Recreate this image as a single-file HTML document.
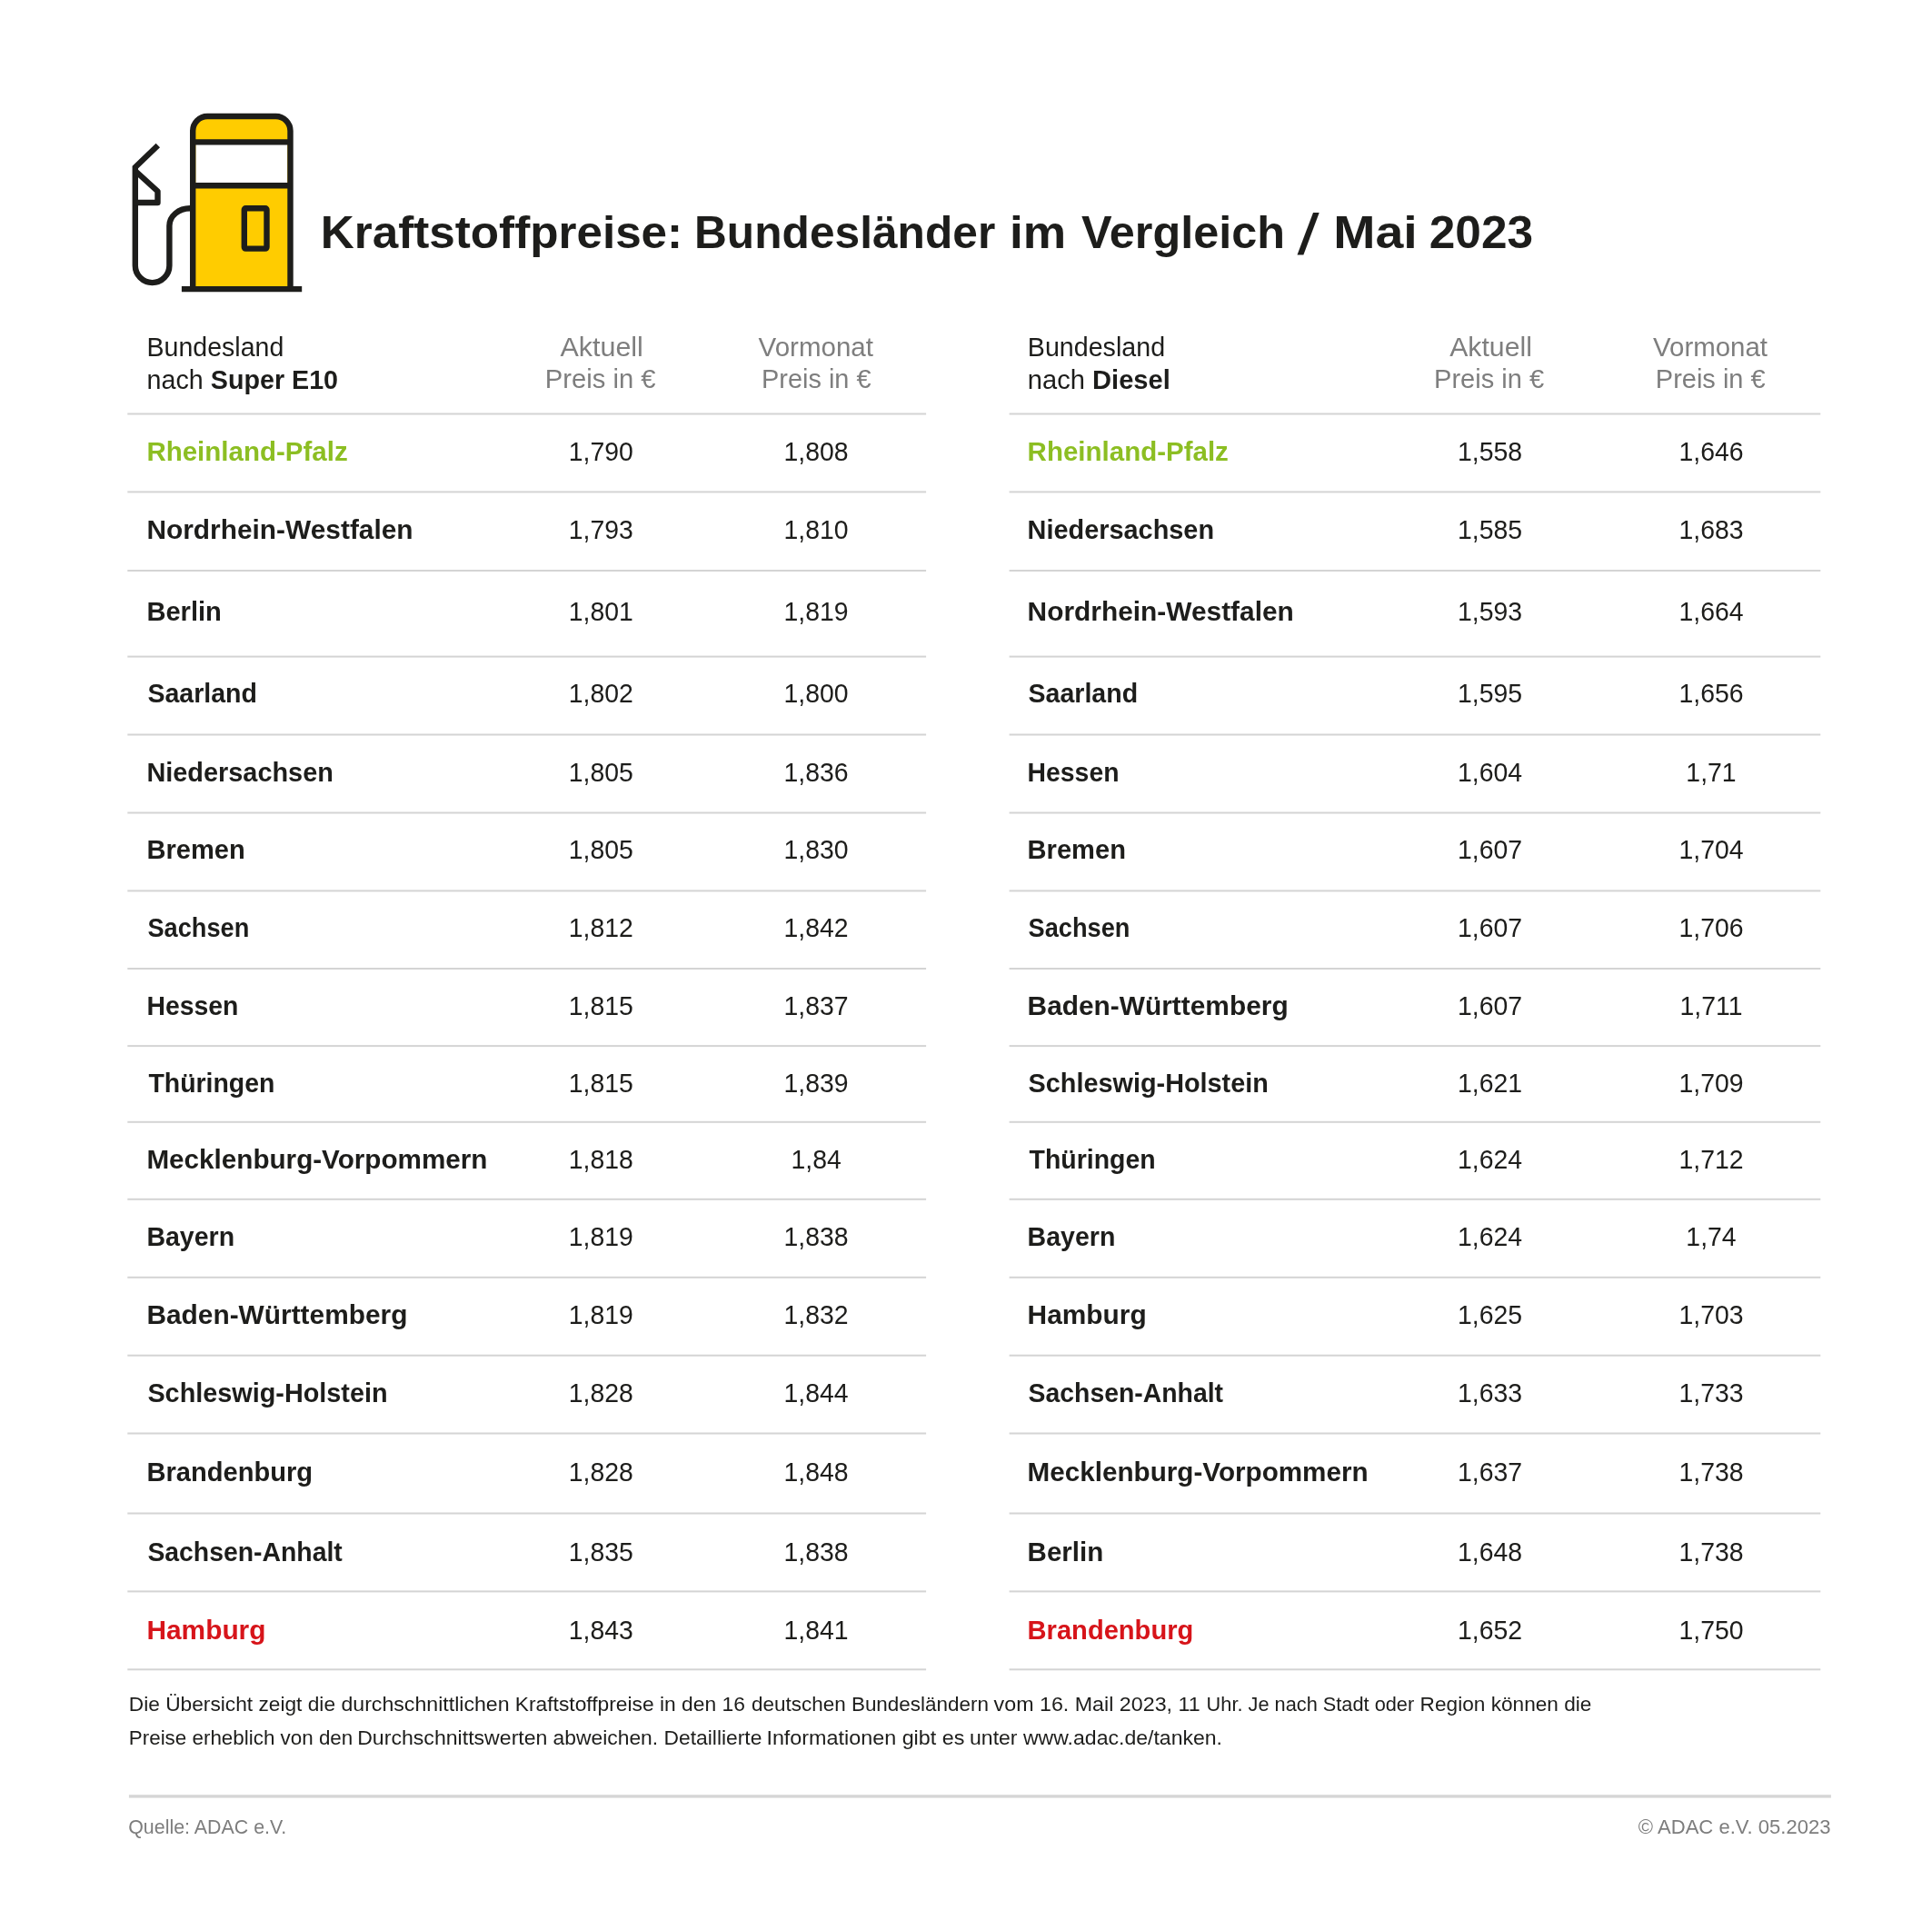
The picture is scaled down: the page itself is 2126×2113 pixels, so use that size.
<!DOCTYPE html>
<html lang="de"><head><meta charset="utf-8"><title>Kraftstoffpreise: Bundesländer im Vergleich / Mai 2023</title>
<style>
html,body{margin:0;padding:0;background:#fff;}
body{width:2126px;height:2113px;overflow:hidden;}
svg{display:block;will-change:transform;font-family:"Liberation Sans",Arial,sans-serif;}
</style></head><body>
<svg width="2126" height="2113" viewBox="0 0 2126 2113">
<rect width="2126" height="2113" fill="#ffffff"/>
<rect x="140.3" y="454.5" width="878.8" height="2" fill="#d4d4d4"/>
<rect x="1110.6" y="454.5" width="892.7" height="2" fill="#d4d4d4"/>
<rect x="140.3" y="540.4" width="878.8" height="2" fill="#d4d4d4"/>
<rect x="1110.6" y="540.4" width="892.7" height="2" fill="#d4d4d4"/>
<rect x="140.3" y="627" width="878.8" height="2" fill="#d4d4d4"/>
<rect x="1110.6" y="627" width="892.7" height="2" fill="#d4d4d4"/>
<rect x="140.3" y="721.6" width="878.8" height="2" fill="#d4d4d4"/>
<rect x="1110.6" y="721.6" width="892.7" height="2" fill="#d4d4d4"/>
<rect x="140.3" y="807.5" width="878.8" height="2" fill="#d4d4d4"/>
<rect x="1110.6" y="807.5" width="892.7" height="2" fill="#d4d4d4"/>
<rect x="140.3" y="893.5" width="878.8" height="2" fill="#d4d4d4"/>
<rect x="1110.6" y="893.5" width="892.7" height="2" fill="#d4d4d4"/>
<rect x="140.3" y="979.4" width="878.8" height="2" fill="#d4d4d4"/>
<rect x="1110.6" y="979.4" width="892.7" height="2" fill="#d4d4d4"/>
<rect x="140.3" y="1065" width="878.8" height="2" fill="#d4d4d4"/>
<rect x="1110.6" y="1065" width="892.7" height="2" fill="#d4d4d4"/>
<rect x="140.3" y="1150.1" width="878.8" height="2" fill="#d4d4d4"/>
<rect x="1110.6" y="1150.1" width="892.7" height="2" fill="#d4d4d4"/>
<rect x="140.3" y="1233.8" width="878.8" height="2" fill="#d4d4d4"/>
<rect x="1110.6" y="1233.8" width="892.7" height="2" fill="#d4d4d4"/>
<rect x="140.3" y="1318.8" width="878.8" height="2" fill="#d4d4d4"/>
<rect x="1110.6" y="1318.8" width="892.7" height="2" fill="#d4d4d4"/>
<rect x="140.3" y="1404.8" width="878.8" height="2" fill="#d4d4d4"/>
<rect x="1110.6" y="1404.8" width="892.7" height="2" fill="#d4d4d4"/>
<rect x="140.3" y="1490.7" width="878.8" height="2" fill="#d4d4d4"/>
<rect x="1110.6" y="1490.7" width="892.7" height="2" fill="#d4d4d4"/>
<rect x="140.3" y="1576.5" width="878.8" height="2" fill="#d4d4d4"/>
<rect x="1110.6" y="1576.5" width="892.7" height="2" fill="#d4d4d4"/>
<rect x="140.3" y="1664.5" width="878.8" height="2" fill="#d4d4d4"/>
<rect x="1110.6" y="1664.5" width="892.7" height="2" fill="#d4d4d4"/>
<rect x="140.3" y="1750.4" width="878.8" height="2" fill="#d4d4d4"/>
<rect x="1110.6" y="1750.4" width="892.7" height="2" fill="#d4d4d4"/>
<rect x="140.3" y="1836.3" width="878.8" height="2" fill="#d4d4d4"/>
<rect x="1110.6" y="1836.3" width="892.7" height="2" fill="#d4d4d4"/>
<rect x="141.9" y="1975.2" width="1873.0" height="3.4" fill="#d6d6d6"/>
<text x="161.6" y="391.6" font-size="30.3" fill="#1d1d1b" textLength="150.69" lengthAdjust="spacingAndGlyphs">Bundesland</text>
<text x="1130.8" y="391.8" font-size="30.3" fill="#1d1d1b" textLength="151.31" lengthAdjust="spacingAndGlyphs">Bundesland</text>
<text x="161.6" y="427.8" font-size="30.3" fill="#1d1d1b" textLength="210.44" lengthAdjust="spacingAndGlyphs">nach <tspan font-weight="bold">Super E10</tspan></text>
<text x="1130.8" y="427.8" font-size="30.3" fill="#1d1d1b" textLength="157.08" lengthAdjust="spacingAndGlyphs">nach <tspan font-weight="bold">Diesel</tspan></text>
<text x="616.4" y="392.1" font-size="30.3" fill="#7e7e7e" textLength="91.49" lengthAdjust="spacingAndGlyphs">Aktuell</text>
<text x="599.8" y="427.4" font-size="30.3" fill="#7e7e7e" textLength="121.73" lengthAdjust="spacingAndGlyphs">Preis in €</text>
<text x="834.6" y="392.1" font-size="30.3" fill="#7e7e7e" textLength="126.41" lengthAdjust="spacingAndGlyphs">Vormonat</text>
<text x="838.0" y="427.4" font-size="30.3" fill="#7e7e7e" textLength="120.48" lengthAdjust="spacingAndGlyphs">Preis in €</text>
<text x="1595.2" y="392.1" font-size="30.3" fill="#7e7e7e" textLength="90.66" lengthAdjust="spacingAndGlyphs">Aktuell</text>
<text x="1578.0" y="427.4" font-size="30.3" fill="#7e7e7e" textLength="121.10" lengthAdjust="spacingAndGlyphs">Preis in €</text>
<text x="1819.0" y="392.1" font-size="30.3" fill="#7e7e7e" textLength="126.05" lengthAdjust="spacingAndGlyphs">Vormonat</text>
<text x="1821.8" y="427.4" font-size="30.3" fill="#7e7e7e" textLength="120.87" lengthAdjust="spacingAndGlyphs">Preis in €</text>
<text x="161.4" y="507" font-size="29.7" fill="#8cbe22" font-weight="bold" textLength="221.26" lengthAdjust="spacingAndGlyphs">Rheinland-Pfalz</text>
<text x="661.3" y="507" font-size="29.8" fill="#1d1d1b" text-anchor="middle" textLength="71.07" lengthAdjust="spacingAndGlyphs">1,790</text>
<text x="898.1" y="507" font-size="29.8" fill="#1d1d1b" text-anchor="middle" textLength="71.07" lengthAdjust="spacingAndGlyphs">1,808</text>
<text x="161.4" y="593" font-size="29.7" fill="#1d1d1b" font-weight="bold" textLength="293.24" lengthAdjust="spacingAndGlyphs">Nordrhein-Westfalen</text>
<text x="661.3" y="593" font-size="29.8" fill="#1d1d1b" text-anchor="middle" textLength="71.07" lengthAdjust="spacingAndGlyphs">1,793</text>
<text x="898.1" y="593" font-size="29.8" fill="#1d1d1b" text-anchor="middle" textLength="71.07" lengthAdjust="spacingAndGlyphs">1,810</text>
<text x="161.4" y="683.4" font-size="29.7" fill="#1d1d1b" font-weight="bold" textLength="82.52" lengthAdjust="spacingAndGlyphs">Berlin</text>
<text x="661.3" y="683.4" font-size="29.8" fill="#1d1d1b" text-anchor="middle" textLength="71.07" lengthAdjust="spacingAndGlyphs">1,801</text>
<text x="898.1" y="683.4" font-size="29.8" fill="#1d1d1b" text-anchor="middle" textLength="71.07" lengthAdjust="spacingAndGlyphs">1,819</text>
<text x="162.4" y="773.4" font-size="29.7" fill="#1d1d1b" font-weight="bold" textLength="120.48" lengthAdjust="spacingAndGlyphs">Saarland</text>
<text x="661.3" y="773.4" font-size="29.8" fill="#1d1d1b" text-anchor="middle" textLength="71.07" lengthAdjust="spacingAndGlyphs">1,802</text>
<text x="898.1" y="773.4" font-size="29.8" fill="#1d1d1b" text-anchor="middle" textLength="71.07" lengthAdjust="spacingAndGlyphs">1,800</text>
<text x="161.4" y="860" font-size="29.7" fill="#1d1d1b" font-weight="bold" textLength="205.49" lengthAdjust="spacingAndGlyphs">Niedersachsen</text>
<text x="661.3" y="860" font-size="29.8" fill="#1d1d1b" text-anchor="middle" textLength="71.07" lengthAdjust="spacingAndGlyphs">1,805</text>
<text x="898.1" y="860" font-size="29.8" fill="#1d1d1b" text-anchor="middle" textLength="71.07" lengthAdjust="spacingAndGlyphs">1,836</text>
<text x="161.4" y="945.3" font-size="29.7" fill="#1d1d1b" font-weight="bold" textLength="108.33" lengthAdjust="spacingAndGlyphs">Bremen</text>
<text x="661.3" y="945.3" font-size="29.8" fill="#1d1d1b" text-anchor="middle" textLength="71.07" lengthAdjust="spacingAndGlyphs">1,805</text>
<text x="898.1" y="945.3" font-size="29.8" fill="#1d1d1b" text-anchor="middle" textLength="71.07" lengthAdjust="spacingAndGlyphs">1,830</text>
<text x="162.4" y="1031" font-size="29.7" fill="#1d1d1b" font-weight="bold" textLength="111.88" lengthAdjust="spacingAndGlyphs">Sachsen</text>
<text x="661.3" y="1031" font-size="29.8" fill="#1d1d1b" text-anchor="middle" textLength="71.07" lengthAdjust="spacingAndGlyphs">1,812</text>
<text x="898.1" y="1031" font-size="29.8" fill="#1d1d1b" text-anchor="middle" textLength="71.07" lengthAdjust="spacingAndGlyphs">1,842</text>
<text x="161.4" y="1117.3" font-size="29.7" fill="#1d1d1b" font-weight="bold" textLength="100.95" lengthAdjust="spacingAndGlyphs">Hessen</text>
<text x="661.3" y="1117.3" font-size="29.8" fill="#1d1d1b" text-anchor="middle" textLength="71.07" lengthAdjust="spacingAndGlyphs">1,815</text>
<text x="898.1" y="1117.3" font-size="29.8" fill="#1d1d1b" text-anchor="middle" textLength="71.07" lengthAdjust="spacingAndGlyphs">1,837</text>
<text x="163.4" y="1201.8" font-size="29.7" fill="#1d1d1b" font-weight="bold" textLength="139.03" lengthAdjust="spacingAndGlyphs">Thüringen</text>
<text x="661.3" y="1201.8" font-size="29.8" fill="#1d1d1b" text-anchor="middle" textLength="71.07" lengthAdjust="spacingAndGlyphs">1,815</text>
<text x="898.1" y="1201.8" font-size="29.8" fill="#1d1d1b" text-anchor="middle" textLength="71.07" lengthAdjust="spacingAndGlyphs">1,839</text>
<text x="161.4" y="1286.3" font-size="29.7" fill="#1d1d1b" font-weight="bold" textLength="375.03" lengthAdjust="spacingAndGlyphs">Mecklenburg-Vorpommern</text>
<text x="661.3" y="1286.3" font-size="29.8" fill="#1d1d1b" text-anchor="middle" textLength="71.07" lengthAdjust="spacingAndGlyphs">1,818</text>
<text x="898.1" y="1286.3" font-size="29.8" fill="#1d1d1b" text-anchor="middle" textLength="55.28" lengthAdjust="spacingAndGlyphs">1,84</text>
<text x="161.4" y="1371.4" font-size="29.7" fill="#1d1d1b" font-weight="bold" textLength="96.77" lengthAdjust="spacingAndGlyphs">Bayern</text>
<text x="661.3" y="1371.4" font-size="29.8" fill="#1d1d1b" text-anchor="middle" textLength="71.07" lengthAdjust="spacingAndGlyphs">1,819</text>
<text x="898.1" y="1371.4" font-size="29.8" fill="#1d1d1b" text-anchor="middle" textLength="71.07" lengthAdjust="spacingAndGlyphs">1,838</text>
<text x="161.4" y="1457.3" font-size="29.7" fill="#1d1d1b" font-weight="bold" textLength="287.05" lengthAdjust="spacingAndGlyphs">Baden-Württemberg</text>
<text x="661.3" y="1457.3" font-size="29.8" fill="#1d1d1b" text-anchor="middle" textLength="71.07" lengthAdjust="spacingAndGlyphs">1,819</text>
<text x="898.1" y="1457.3" font-size="29.8" fill="#1d1d1b" text-anchor="middle" textLength="71.07" lengthAdjust="spacingAndGlyphs">1,832</text>
<text x="162.4" y="1542.7" font-size="29.7" fill="#1d1d1b" font-weight="bold" textLength="264.23" lengthAdjust="spacingAndGlyphs">Schleswig-Holstein</text>
<text x="661.3" y="1542.7" font-size="29.8" fill="#1d1d1b" text-anchor="middle" textLength="71.07" lengthAdjust="spacingAndGlyphs">1,828</text>
<text x="898.1" y="1542.7" font-size="29.8" fill="#1d1d1b" text-anchor="middle" textLength="71.07" lengthAdjust="spacingAndGlyphs">1,844</text>
<text x="161.4" y="1630.3" font-size="29.7" fill="#1d1d1b" font-weight="bold" textLength="182.68" lengthAdjust="spacingAndGlyphs">Brandenburg</text>
<text x="661.3" y="1630.3" font-size="29.8" fill="#1d1d1b" text-anchor="middle" textLength="71.07" lengthAdjust="spacingAndGlyphs">1,828</text>
<text x="898.1" y="1630.3" font-size="29.8" fill="#1d1d1b" text-anchor="middle" textLength="71.07" lengthAdjust="spacingAndGlyphs">1,848</text>
<text x="162.4" y="1717.6" font-size="29.7" fill="#1d1d1b" font-weight="bold" textLength="214.42" lengthAdjust="spacingAndGlyphs">Sachsen-Anhalt</text>
<text x="661.3" y="1717.6" font-size="29.8" fill="#1d1d1b" text-anchor="middle" textLength="71.07" lengthAdjust="spacingAndGlyphs">1,835</text>
<text x="898.1" y="1717.6" font-size="29.8" fill="#1d1d1b" text-anchor="middle" textLength="71.07" lengthAdjust="spacingAndGlyphs">1,838</text>
<text x="161.4" y="1803.5" font-size="29.7" fill="#d7141a" font-weight="bold" textLength="131.11" lengthAdjust="spacingAndGlyphs">Hamburg</text>
<text x="661.3" y="1803.5" font-size="29.8" fill="#1d1d1b" text-anchor="middle" textLength="71.07" lengthAdjust="spacingAndGlyphs">1,843</text>
<text x="898.1" y="1803.5" font-size="29.8" fill="#1d1d1b" text-anchor="middle" textLength="71.07" lengthAdjust="spacingAndGlyphs">1,841</text>
<text x="1130.6" y="507" font-size="29.7" fill="#8cbe22" font-weight="bold" textLength="221.24" lengthAdjust="spacingAndGlyphs">Rheinland-Pfalz</text>
<text x="1639.5" y="507" font-size="29.8" fill="#1d1d1b" text-anchor="middle" textLength="71.07" lengthAdjust="spacingAndGlyphs">1,558</text>
<text x="1883" y="507" font-size="29.8" fill="#1d1d1b" text-anchor="middle" textLength="71.07" lengthAdjust="spacingAndGlyphs">1,646</text>
<text x="1130.6" y="593" font-size="29.7" fill="#1d1d1b" font-weight="bold" textLength="205.47" lengthAdjust="spacingAndGlyphs">Niedersachsen</text>
<text x="1639.5" y="593" font-size="29.8" fill="#1d1d1b" text-anchor="middle" textLength="71.07" lengthAdjust="spacingAndGlyphs">1,585</text>
<text x="1883" y="593" font-size="29.8" fill="#1d1d1b" text-anchor="middle" textLength="71.07" lengthAdjust="spacingAndGlyphs">1,683</text>
<text x="1130.6" y="683.4" font-size="29.7" fill="#1d1d1b" font-weight="bold" textLength="293.25" lengthAdjust="spacingAndGlyphs">Nordrhein-Westfalen</text>
<text x="1639.5" y="683.4" font-size="29.8" fill="#1d1d1b" text-anchor="middle" textLength="71.07" lengthAdjust="spacingAndGlyphs">1,593</text>
<text x="1883" y="683.4" font-size="29.8" fill="#1d1d1b" text-anchor="middle" textLength="71.07" lengthAdjust="spacingAndGlyphs">1,664</text>
<text x="1131.6" y="773.4" font-size="29.7" fill="#1d1d1b" font-weight="bold" textLength="120.48" lengthAdjust="spacingAndGlyphs">Saarland</text>
<text x="1639.5" y="773.4" font-size="29.8" fill="#1d1d1b" text-anchor="middle" textLength="71.07" lengthAdjust="spacingAndGlyphs">1,595</text>
<text x="1883" y="773.4" font-size="29.8" fill="#1d1d1b" text-anchor="middle" textLength="71.07" lengthAdjust="spacingAndGlyphs">1,656</text>
<text x="1130.6" y="860" font-size="29.7" fill="#1d1d1b" font-weight="bold" textLength="100.91" lengthAdjust="spacingAndGlyphs">Hessen</text>
<text x="1639.5" y="860" font-size="29.8" fill="#1d1d1b" text-anchor="middle" textLength="71.07" lengthAdjust="spacingAndGlyphs">1,604</text>
<text x="1883" y="860" font-size="29.8" fill="#1d1d1b" text-anchor="middle" textLength="55.28" lengthAdjust="spacingAndGlyphs">1,71</text>
<text x="1130.6" y="945.3" font-size="29.7" fill="#1d1d1b" font-weight="bold" textLength="108.33" lengthAdjust="spacingAndGlyphs">Bremen</text>
<text x="1639.5" y="945.3" font-size="29.8" fill="#1d1d1b" text-anchor="middle" textLength="71.07" lengthAdjust="spacingAndGlyphs">1,607</text>
<text x="1883" y="945.3" font-size="29.8" fill="#1d1d1b" text-anchor="middle" textLength="71.07" lengthAdjust="spacingAndGlyphs">1,704</text>
<text x="1131.6" y="1031" font-size="29.7" fill="#1d1d1b" font-weight="bold" textLength="111.88" lengthAdjust="spacingAndGlyphs">Sachsen</text>
<text x="1639.5" y="1031" font-size="29.8" fill="#1d1d1b" text-anchor="middle" textLength="71.07" lengthAdjust="spacingAndGlyphs">1,607</text>
<text x="1883" y="1031" font-size="29.8" fill="#1d1d1b" text-anchor="middle" textLength="71.07" lengthAdjust="spacingAndGlyphs">1,706</text>
<text x="1130.6" y="1117.3" font-size="29.7" fill="#1d1d1b" font-weight="bold" textLength="287.05" lengthAdjust="spacingAndGlyphs">Baden-Württemberg</text>
<text x="1639.5" y="1117.3" font-size="29.8" fill="#1d1d1b" text-anchor="middle" textLength="71.07" lengthAdjust="spacingAndGlyphs">1,607</text>
<text x="1883" y="1117.3" font-size="29.8" fill="#1d1d1b" text-anchor="middle" textLength="68.96" lengthAdjust="spacingAndGlyphs">1,711</text>
<text x="1131.6" y="1201.8" font-size="29.7" fill="#1d1d1b" font-weight="bold" textLength="264.23" lengthAdjust="spacingAndGlyphs">Schleswig-Holstein</text>
<text x="1639.5" y="1201.8" font-size="29.8" fill="#1d1d1b" text-anchor="middle" textLength="71.07" lengthAdjust="spacingAndGlyphs">1,621</text>
<text x="1883" y="1201.8" font-size="29.8" fill="#1d1d1b" text-anchor="middle" textLength="71.07" lengthAdjust="spacingAndGlyphs">1,709</text>
<text x="1132.6" y="1286.3" font-size="29.7" fill="#1d1d1b" font-weight="bold" textLength="139.02" lengthAdjust="spacingAndGlyphs">Thüringen</text>
<text x="1639.5" y="1286.3" font-size="29.8" fill="#1d1d1b" text-anchor="middle" textLength="71.07" lengthAdjust="spacingAndGlyphs">1,624</text>
<text x="1883" y="1286.3" font-size="29.8" fill="#1d1d1b" text-anchor="middle" textLength="71.07" lengthAdjust="spacingAndGlyphs">1,712</text>
<text x="1130.6" y="1371.4" font-size="29.7" fill="#1d1d1b" font-weight="bold" textLength="96.75" lengthAdjust="spacingAndGlyphs">Bayern</text>
<text x="1639.5" y="1371.4" font-size="29.8" fill="#1d1d1b" text-anchor="middle" textLength="71.07" lengthAdjust="spacingAndGlyphs">1,624</text>
<text x="1883" y="1371.4" font-size="29.8" fill="#1d1d1b" text-anchor="middle" textLength="55.28" lengthAdjust="spacingAndGlyphs">1,74</text>
<text x="1130.6" y="1457.3" font-size="29.7" fill="#1d1d1b" font-weight="bold" textLength="131.13" lengthAdjust="spacingAndGlyphs">Hamburg</text>
<text x="1639.5" y="1457.3" font-size="29.8" fill="#1d1d1b" text-anchor="middle" textLength="71.07" lengthAdjust="spacingAndGlyphs">1,625</text>
<text x="1883" y="1457.3" font-size="29.8" fill="#1d1d1b" text-anchor="middle" textLength="71.07" lengthAdjust="spacingAndGlyphs">1,703</text>
<text x="1131.6" y="1542.7" font-size="29.7" fill="#1d1d1b" font-weight="bold" textLength="214.42" lengthAdjust="spacingAndGlyphs">Sachsen-Anhalt</text>
<text x="1639.5" y="1542.7" font-size="29.8" fill="#1d1d1b" text-anchor="middle" textLength="71.07" lengthAdjust="spacingAndGlyphs">1,633</text>
<text x="1883" y="1542.7" font-size="29.8" fill="#1d1d1b" text-anchor="middle" textLength="71.07" lengthAdjust="spacingAndGlyphs">1,733</text>
<text x="1130.6" y="1630.3" font-size="29.7" fill="#1d1d1b" font-weight="bold" textLength="375.03" lengthAdjust="spacingAndGlyphs">Mecklenburg-Vorpommern</text>
<text x="1639.5" y="1630.3" font-size="29.8" fill="#1d1d1b" text-anchor="middle" textLength="71.07" lengthAdjust="spacingAndGlyphs">1,637</text>
<text x="1883" y="1630.3" font-size="29.8" fill="#1d1d1b" text-anchor="middle" textLength="71.07" lengthAdjust="spacingAndGlyphs">1,738</text>
<text x="1130.6" y="1717.6" font-size="29.7" fill="#1d1d1b" font-weight="bold" textLength="83.63" lengthAdjust="spacingAndGlyphs">Berlin</text>
<text x="1639.5" y="1717.6" font-size="29.8" fill="#1d1d1b" text-anchor="middle" textLength="71.07" lengthAdjust="spacingAndGlyphs">1,648</text>
<text x="1883" y="1717.6" font-size="29.8" fill="#1d1d1b" text-anchor="middle" textLength="71.07" lengthAdjust="spacingAndGlyphs">1,738</text>
<text x="1130.6" y="1803.5" font-size="29.7" fill="#d7141a" font-weight="bold" textLength="182.67" lengthAdjust="spacingAndGlyphs">Brandenburg</text>
<text x="1639.5" y="1803.5" font-size="29.8" fill="#1d1d1b" text-anchor="middle" textLength="71.07" lengthAdjust="spacingAndGlyphs">1,652</text>
<text x="1883" y="1803.5" font-size="29.8" fill="#1d1d1b" text-anchor="middle" textLength="71.07" lengthAdjust="spacingAndGlyphs">1,750</text>
<text x="352.8" y="273" font-size="50" fill="#1d1d1b" font-weight="bold" textLength="398.37" lengthAdjust="spacingAndGlyphs">Kraftstoffpreise:</text>
<text x="764.0" y="273" font-size="50" fill="#1d1d1b" font-weight="bold" textLength="331.24" lengthAdjust="spacingAndGlyphs">Bundesländer</text>
<text x="1111.0" y="273" font-size="50" fill="#1d1d1b" font-weight="bold" textLength="62.26" lengthAdjust="spacingAndGlyphs">im</text>
<text x="1190.0" y="273" font-size="50" fill="#1d1d1b" font-weight="bold" textLength="224.04" lengthAdjust="spacingAndGlyphs">Vergleich</text>
<text x="1427.4" y="280.0" font-size="62.6" fill="#1d1d1b" textLength="24.21" lengthAdjust="spacingAndGlyphs">/</text>
<text x="1467.2" y="273" font-size="50" fill="#1d1d1b" font-weight="bold" textLength="92.46" lengthAdjust="spacingAndGlyphs">Mai</text>
<text x="1572.8" y="273" font-size="50" fill="#1d1d1b" font-weight="bold" textLength="114.31" lengthAdjust="spacingAndGlyphs">2023</text>
<text x="141.8" y="1883.0" font-size="22.4" fill="#1d1d1b" textLength="227.24" lengthAdjust="spacingAndGlyphs">Die Übersicht zeigt die</text>
<text x="375.4" y="1883.0" font-size="22.4" fill="#1d1d1b" textLength="185.23" lengthAdjust="spacingAndGlyphs">durchschnittlichen</text>
<text x="566.8" y="1883.0" font-size="22.4" fill="#1d1d1b" textLength="253.03" lengthAdjust="spacingAndGlyphs">Kraftstoffpreise in den 16</text>
<text x="827.0" y="1883.0" font-size="22.4" fill="#1d1d1b" textLength="261.02" lengthAdjust="spacingAndGlyphs">deutschen Bundesländern</text>
<text x="1093.6" y="1883.0" font-size="22.4" fill="#1d1d1b" textLength="227.03" lengthAdjust="spacingAndGlyphs">vom 16. Mail 2023, 11</text>
<text x="1327.6" y="1883.0" font-size="22.4" fill="#1d1d1b" textLength="228.63" lengthAdjust="spacingAndGlyphs">Uhr. Je nach Stadt oder</text>
<text x="1562.6" y="1883.0" font-size="22.4" fill="#1d1d1b" textLength="188.83" lengthAdjust="spacingAndGlyphs">Region können die</text>
<text x="141.8" y="1919.8" font-size="22.4" fill="#1d1d1b" textLength="246.44" lengthAdjust="spacingAndGlyphs">Preise erheblich von den</text>
<text x="393.2" y="1919.8" font-size="22.4" fill="#1d1d1b" textLength="209.26" lengthAdjust="spacingAndGlyphs">Durchschnittswerten</text>
<text x="608.6" y="1919.8" font-size="22.4" fill="#1d1d1b" textLength="229.81" lengthAdjust="spacingAndGlyphs">abweichen. Detaillierte</text>
<text x="843.4" y="1919.8" font-size="22.4" fill="#1d1d1b" textLength="218.03" lengthAdjust="spacingAndGlyphs">Informationen gibt es</text>
<text x="1067.0" y="1919.8" font-size="22.4" fill="#1d1d1b" textLength="278.03" lengthAdjust="spacingAndGlyphs">unter www.adac.de/tanken.</text>
<text x="141.2" y="2017.5" font-size="21.5" fill="#7d7d7d" textLength="174.07" lengthAdjust="spacingAndGlyphs">Quelle: ADAC e.V.</text>
<text x="1802.8" y="2017.6" font-size="21.5" fill="#7d7d7d" textLength="211.82" lengthAdjust="spacingAndGlyphs">© ADAC e.V. 05.2023</text>

<path d="M212.2,318 V144 a16,16 0 0 1 16,-16 H303.5 a16,16 0 0 1 16,16 V318 Z" fill="#ffcc00"/>
<rect x="215.4" y="156.4" width="100.8" height="47.9" fill="#ffffff"/>
<g fill="none" stroke="#1d1d1b" stroke-width="6.4">
 <path d="M212.2,318 V144 a16,16 0 0 1 16,-16 H303.5 a16,16 0 0 1 16,16 V318"/>
 <line x1="212.2" y1="156.4" x2="319.5" y2="156.4"/>
 <line x1="212.2" y1="204.3" x2="319.5" y2="204.3"/>
 <rect x="268.8" y="229.3" width="24.7" height="44.3" rx="1.5"/>
 <line x1="199.9" y1="318.1" x2="332.2" y2="318.1" stroke-width="6.1"/>
 <path d="M173.8,160 L148.8,184 V292.3 a18.8,18.8 0 0 0 37.6,0 V248.5 a22.8,19.2 0 0 1 22.8,-19.2" stroke-linejoin="miter"/>
 <path d="M148.8,188 L173.5,210.5 V223 H148.8" stroke-linejoin="round"/>
</g>
</svg>
</body></html>
